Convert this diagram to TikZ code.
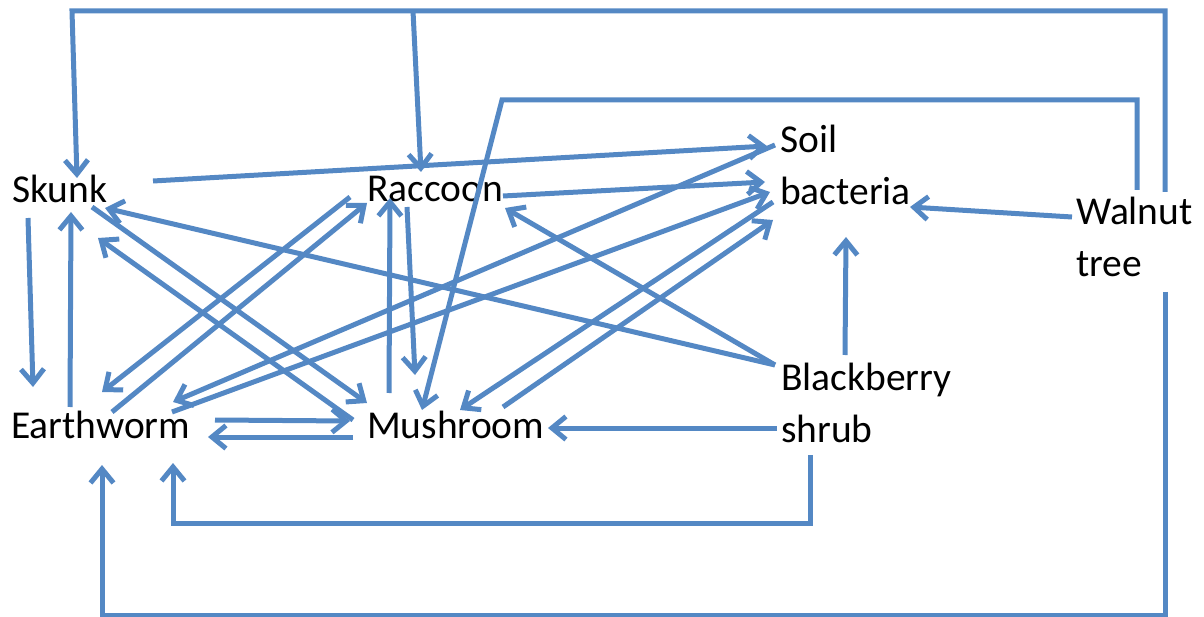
\documentclass[tikz,border=0pt]{standalone}
\usepackage{fontspec}
\setmainfont{Carlito}
\usetikzlibrary{arrows.meta}
\definecolor{lb}{RGB}{84,136,196}
\begin{document}
\begin{tikzpicture}[x=1pt,y=-1pt,
  lbl/.style={anchor=base west, inner sep=0pt, font=\fontsize{39.5}{52}\selectfont, align=left},
  conn/.style={draw=lb, line width=5pt, line join=miter, -{Straight Barb[length=14pt,width=23pt]}}]
\useasboundingbox (0,0) rectangle (1204,617);

% nodes (two-line nodes are placed at the baseline of their last line)
\node[lbl] (sk) at (12,203) {Skunk};
\node[lbl] (ra) at (367,202) {Raccoon};
\node[lbl] (sb) at (780,205) {Soil\\bacteria};
\node[lbl] (wt) at (1076,277) {Walnut\\tree};
\node[lbl] (bb) at (781,442) {Blackberry\\shrub};
\node[lbl] (ew) at (11,438) {Earthworm};
\node[lbl] (mu) at (367,438) {Mushroom};

% Walnut tree -> Skunk, Raccoon (top frame)
\draw[conn] ([shift={(89,-85)}]wt.base west) -- ++(0,-181) coordinate (tr) -- (72,11) coordinate (tl) -- ([shift={(65,-25)}]sk.base west);
\coordinate (tb) at (413,11);
\draw[conn] (tb) -- ([shift={(54,-30)}]ra.base west);
% Walnut tree -> Mushroom
\draw[conn] ([shift={(61,-87)}]wt.base west) -- ++(0,-90) -- (502,100) coordinate (wm) -- ([shift={(55,-28)}]mu.base west);
% Walnut tree -> Earthworm
\draw[conn] ([shift={(89,15)}]wt.base west) -- ++(0,323) -- (102,615) coordinate (wb) -- ([shift={(91,27)}]ew.base west);
% Walnut tree -> bacteria
\draw[conn] ([shift={(-4,-60)}]wt.base west) -- ([shift={(130,2)}]sb.base west);

% Blackberry shrub
\draw[conn] ([shift={(29,13)}]bb.base west) -- ++(0,68) -- (173,523) coordinate (bbl) -- ([shift={(162,25)}]ew.base west);
\draw[conn] ([shift={(-4,-14)}]bb.base west) -- ([shift={(181,-10)}]mu.base west);
\draw[conn] ([shift={(64,-87)}]bb.base west) -- ([shift={(66,32)}]sb.base west);
\draw[conn] ([shift={(-6,-77)}]bb.base west) -- ([shift={(93,5)}]sk.base west);
\draw[conn] ([shift={(-6,-77)}]bb.base west) -- ([shift={(138,6)}]ra.base west);

% Skunk
\draw[conn] ([shift={(16,15)}]sk.base west) -- ([shift={(22,-51)}]ew.base west);
\draw[conn] ([shift={(59,-31)}]ew.base west) -- ([shift={(59,9)}]sk.base west);
\draw[conn] ([shift={(80,4)}]sk.base west) -- ([shift={(0,-35)}]mu.base west);
\draw[conn] ([shift={(-14,-18)}]mu.base west) -- ([shift={(86,35)}]sk.base west);
\draw[conn] ([shift={(141,-22)}]sk.base west) -- ([shift={(-13,-59)}]sb.base west);

% Raccoon
\draw[conn] ([shift={(-17,-5)}]ra.base west) -- ([shift={(91,-46)}]ew.base west);
\draw[conn] ([shift={(101,-26)}]ew.base west) -- ([shift={(0,1)}]ra.base west);
\draw[conn] ([shift={(40,5)}]ra.base west) -- ([shift={(48,-63)}]mu.base west);
\draw[conn] ([shift={(22,-45)}]mu.base west) -- ([shift={(23,-4)}]ra.base west);
\draw[conn] ([shift={(136,-6)}]ra.base west) -- ([shift={(-15,-23)}]sb.base west);

% Soil bacteria <-> Earthworm, Mushroom
\draw[conn] ([shift={(-5,-60)}]sb.base west) -- ([shift={(162,-36)}]ew.base west);
\draw[conn] ([shift={(161,-26)}]ew.base west) -- ([shift={(-10,-13)}]sb.base west);
\draw[conn] ([shift={(-7,-3)}]sb.base west) -- ([shift={(93,-28)}]mu.base west);
\draw[conn] ([shift={(136,-31)}]mu.base west) -- ([shift={(-7,15)}]sb.base west);

% Earthworm <-> Mushroom
\draw[conn] ([shift={(204,-18)}]ew.base west) -- ([shift={(-17,-17)}]mu.base west);
\draw[conn] ([shift={(-14,-1)}]mu.base west) -- ([shift={(197,-1)}]ew.base west);
\end{tikzpicture}
\end{document}
